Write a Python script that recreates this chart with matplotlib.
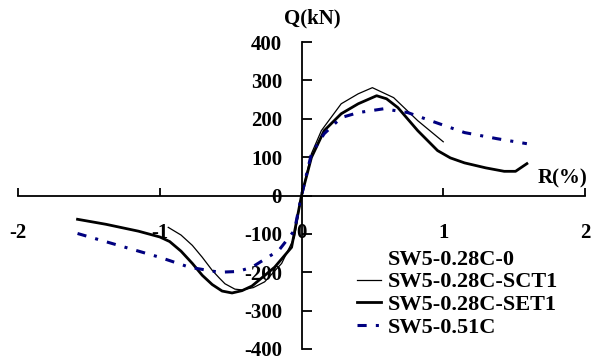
import matplotlib
matplotlib.use('Agg')
import matplotlib.pyplot as plt

plt.rcParams['font.family'] = ['Liberation Serif', 'DejaVu Serif']
plt.rcParams['font.weight'] = 'bold'
plt.rcParams['axes.unicode_minus'] = False

# drift ratio R (%) and shear Q (kN)
r_c0 = []
q_c0 = []

r_sct1 = [-0.94, -0.85, -0.77, -0.70, -0.63, -0.58, -0.54, -0.47, -0.42, -0.34, -0.26,
          -0.14, -0.05, 0.0, 0.07, 0.14, 0.28, 0.40, 0.50, 0.65, 0.82, 1.0]
q_sct1 = [-83, -103, -130, -161, -195, -215, -230, -244, -246, -240, -225,
          -177, -109, 0, 109, 169, 239, 265, 281, 255, 195, 140]

r_set1 = [-1.58, -1.38, -1.15, -1.0, -0.93, -0.85, -0.77, -0.70, -0.63, -0.56, -0.49,
          -0.42, -0.35, -0.19, -0.07, 0.0, 0.07, 0.16, 0.28, 0.40, 0.53, 0.60,
          0.68, 0.82, 0.96, 1.05, 1.15, 1.30, 1.43, 1.51, 1.59]
q_set1 = [-62, -75, -93, -108, -120, -145, -177, -208, -232, -249, -254,
          -248, -236, -187, -135, 0, 99, 169, 213, 239, 260, 252,
          229, 169, 117, 98, 85, 72, 63, 63, 83]

r_051 = [-1.58, -1.0, -0.79, -0.58, -0.45, -0.35, -0.16, -0.05, 0.0, 0.07, 0.16,
         0.28, 0.40, 0.58, 0.75, 0.91, 1.15, 1.38, 1.59]
q_051 = [-99, -161, -187, -200, -198, -187, -143, -91, 0, 109, 161,
         203, 216, 226, 216, 195, 164, 148, 135]

fig = plt.figure(figsize=(5.91, 3.6), dpi=100)
ax = fig.add_axes([18 / 591, 1 - 349 / 360, 567 / 591, 307 / 360])

ax.plot(r_c0, q_c0, color='white', lw=1, label='SW5-0.28C-0')
ax.plot(r_sct1, q_sct1, color='black', lw=0.9, label='SW5-0.28C-SCT1')
ax.plot(r_set1, q_set1, color='black', lw=2.0, label='SW5-0.28C-SET1')
ax.plot(r_051, q_051, color='#000080', lw=2.2, linestyle=(0, (3, 3, 1, 3)),
        label='SW5-0.51C')

ax.set_xlim(-2, 2)
ax.set_ylim(-400, 400)
ax.set_xticks([-2, -1, 0, 1, 2])
ax.set_yticks([-400, -300, -200, -100, 0, 100, 200, 300, 400])

ax.spines['left'].set_position(('data', 0))
ax.spines['bottom'].set_position(('data', 0))
ax.spines['top'].set_visible(False)
ax.spines['right'].set_visible(False)
for s in ['left', 'bottom']:
    ax.spines[s].set_linewidth(1.3)

ax.tick_params(axis='x', direction='in', length=6, width=1.3, pad=20, labelsize=15)
ax.tick_params(axis='y', direction='in', length=7, width=1.3, pad=14, labelsize=15)
ax.set_xticklabels(['-2', '-1', '0', '1', '2'], fontweight='bold')
ax.set_yticklabels([str(v) for v in ax.get_yticks().astype(int)], fontweight='bold')

fig.text(312 / 591, 1 - 18 / 360, 'Q(kN)', ha='center', va='center', fontsize=15,
         fontweight='bold')
fig.text(562 / 591, 1 - 178 / 360, 'R(%)', ha='center', va='center', fontsize=15,
         fontweight='bold')

ax.legend(loc='upper left', bbox_to_anchor=(357 / 591, 1 - 249 / 360),
          bbox_transform=fig.transFigure, frameon=False,
          handlelength=1.1, handletextpad=0.3, labelspacing=0.1,
          borderpad=0, borderaxespad=0, prop={'weight': 'bold', 'size': 16})

fig.savefig('out.png', dpi=100)
